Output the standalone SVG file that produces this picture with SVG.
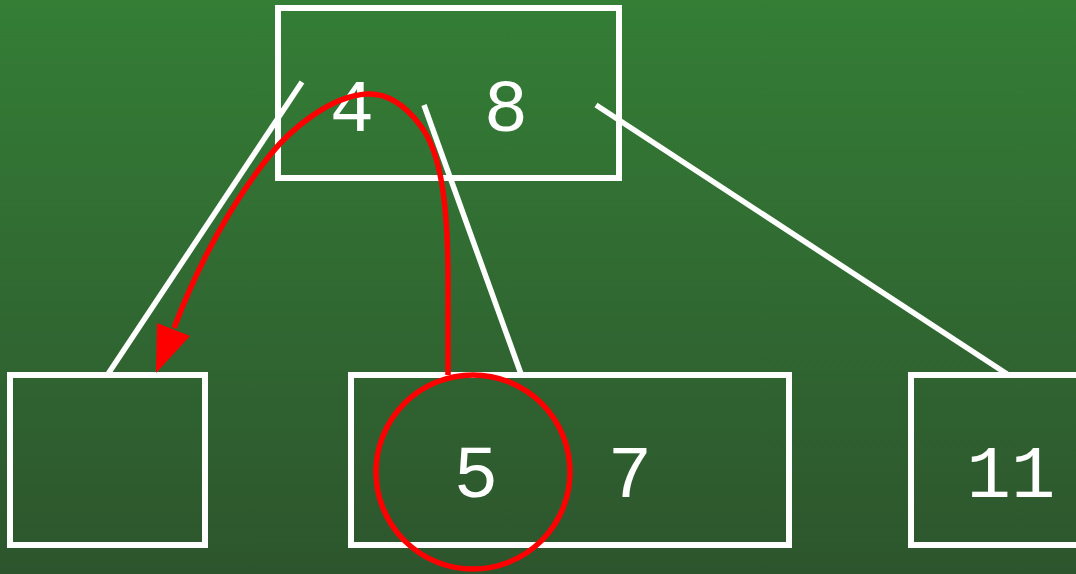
<svg xmlns="http://www.w3.org/2000/svg" width="1076" height="574" viewBox="0 0 1076 574">
<defs>
<linearGradient id="bg" x1="0" y1="0" x2="0" y2="1">
<stop offset="0" stop-color="#347e36"/>
<stop offset="1" stop-color="#2d552d"/>
</linearGradient>
<style>
.box{fill:none;stroke:#fff;stroke-width:6}
.edge{stroke:#fff;stroke-width:5.5;fill:none}
.t{font-family:"Liberation Mono","DejaVu Sans Mono",monospace;font-size:74px;fill:#fff;text-anchor:middle}
.red{fill:none;stroke:#f00;stroke-width:5.5}
</style>
</defs>
<rect width="1076" height="574" fill="url(#bg)"/>
<g id="connectors">
<line class="edge" x1="302" y1="82" x2="108" y2="374"/>
<line class="edge" x1="424" y1="105" x2="521" y2="374"/>
<line class="edge" x1="596" y1="105" x2="1007" y2="374"/>
</g>
<g id="root">
<rect class="box" x="278" y="8" width="341" height="170"/>
<text class="t" x="352" y="131">4</text>
<text class="t" x="506" y="131">8</text>
</g>
<g id="left">
<rect class="box" x="10" y="375" width="195" height="170"/>
</g>
<g id="middle">
<rect class="box" x="351" y="375" width="438" height="170"/>
<text class="t" x="476" y="497">5</text>
<text class="t" x="630" y="497">7</text>
</g>
<g id="right">
<rect class="box" x="911" y="375" width="200" height="170"/>
<text class="t" x="1011" y="497">11</text>
</g>
<g id="highlight">
<circle class="red" cx="473" cy="472" r="97"/>
<path class="red" d="M448,375 L448,280 C448,200 440,150 420,125 C405,105 388,93 367,94 C330,96 290,130 270,155 C230,205 200,260 174,328"/>
<polygon points="156,373 157,323 190,336" fill="#f00"/>
</g>
</svg>
